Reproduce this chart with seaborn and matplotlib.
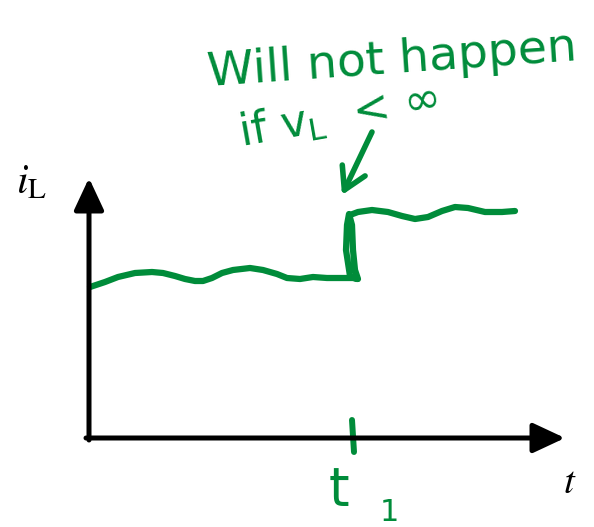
import matplotlib
matplotlib.use("Agg")
import matplotlib.pyplot as plt
import seaborn as sns
import pandas as pd

sns.set_theme(style="white")
plt.rcParams["font.family"] = ["DejaVu Sans"]

GREEN = "#008C3A"

# Inductor current sketch: before t1, the jump at t1, and after t1
t_before = [1, 16, 29, 46, 63, 74, 86, 96, 106, 114, 123, 133, 144, 161,
            174, 188, 198, 211, 224, 238, 251, 264, 268]
i_before = [151, 156, 161, 165, 166, 165, 162, 159, 157, 157, 160, 165, 168,
            170, 168, 164, 160, 159, 161, 160, 160, 160, 159]

t_jump = [268, 261, 257, 258, 260, 263, 264, 266, 269]
i_jump = [159, 162, 188, 213, 224, 213, 188, 168, 159]

t_after = [261, 269, 283, 299, 313, 326, 339, 353, 366, 379, 396, 413, 426]
i_after = [223, 226, 228, 226, 222, 219, 221, 227, 231, 230, 226, 226, 227]

t1 = 264          # instant of the step
t_end = 476       # end of the time axis
i_top = 260       # end of the current axis

fig = plt.figure(figsize=(5.94, 5.27), dpi=100)
ax = fig.add_axes([0, 0, 1, 1])
ax.set_xlim(-89, 505)
ax.set_ylim(-89, 438)
ax.axis("off")

# Axes with arrowheads
for xy, start in [((0, i_top), (0, -2)), ((t_end, 0), (-3, 0))]:
    ax.annotate("", xy=xy, xytext=start,
                arrowprops=dict(arrowstyle="-|>,head_length=0.75,head_width=0.35",
                                lw=3.6, color="black", shrinkA=0, shrinkB=0,
                                mutation_scale=26))

# Current waveform
for tt, ii in [(t_before, i_before), (t_jump, i_jump), (t_after, i_after)]:
    df = pd.DataFrame({"t": tt, "i": ii})
    sns.lineplot(data=df, x="t", y="i", sort=False, color=GREEN, lw=4.5,
                 ax=ax, solid_capstyle="round", solid_joinstyle="round")

# Tick at t1
sns.lineplot(x=[t1 - 1, t1 + 1], y=[18, -14], sort=False, color=GREEN, lw=4.3,
             ax=ax, solid_capstyle="round")

# Labels
ax.text(-73, 245, r"$i_{\mathrm{L}}$", math_fontfamily="stix", fontsize=30,
        ha="left", va="baseline", color="black")
ax.text(474, -55, r"$t$", math_fontfamily="stix", fontsize=28,
        ha="left", va="baseline", color="black")
ax.text(240, -67, "t", fontsize=38, color=GREEN, ha="left", va="baseline")
ax.text(291, -83, "1", fontsize=22, color=GREEN, ha="left", va="baseline")

# Note about the step
ax.text(303, 377, "Will not happen", fontsize=34, color=GREEN, rotation=4,
        ha="center", va="center", rotation_mode="anchor")
ax.text(249, 322, r"if v$_{\mathrm{L}}$  < ∞", fontsize=32, color=GREEN,
        rotation=10, ha="center", va="center", rotation_mode="anchor")
ax.annotate("", xy=(253, 243), xytext=(283, 306),
            arrowprops=dict(arrowstyle="->,head_length=0.6,head_width=0.35",
                            lw=4, color=GREEN, shrinkA=0, shrinkB=0,
                            mutation_scale=26))

fig.savefig("out.png", dpi=100)
